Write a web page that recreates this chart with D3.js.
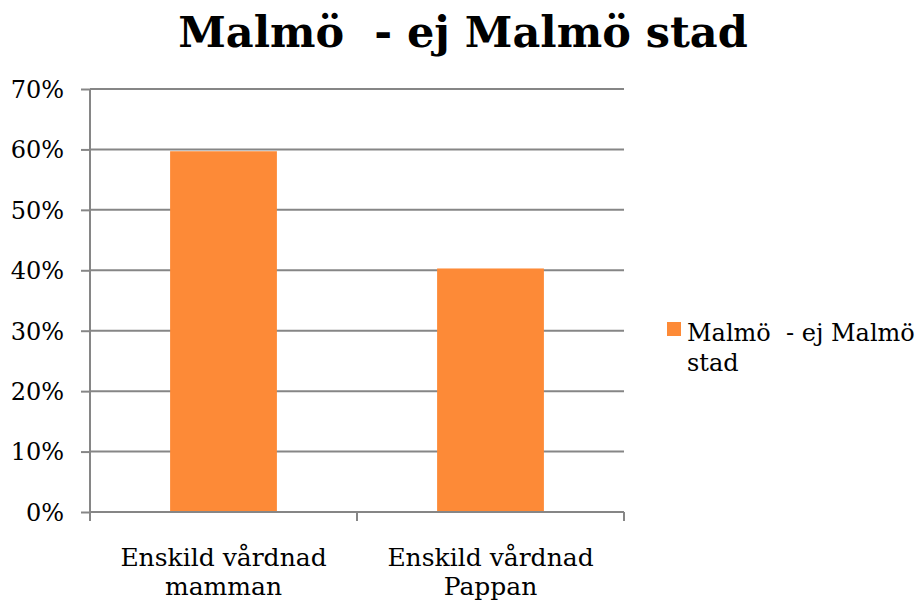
<!DOCTYPE html>
<html>
<head>
<meta charset="utf-8">
<script src="https://cdn.jsdelivr.net/npm/d3@7"></script>
<style>
  body { margin: 0; background: #fff; }
  svg text { font-family: "DejaVu Serif", "Liberation Serif", serif; fill: #000; }
</style>
</head>
<body>
<script>
var categories = [["Enskild vårdnad", "mamman"], ["Enskild vårdnad", "Pappan"]];
var values = [0.597, 0.403];
var seriesName = ["Malmö  - ej Malmö", "stad"];
var title = "Malmö  - ej Malmö stad";
var yTicks = [0, 0.1, 0.2, 0.3, 0.4, 0.5, 0.6, 0.7];

var outerWidth = 924, outerHeight = 600;
var margin = { top: 89, left: 90 },
    width = 534,
    height = 423;

var svg = d3.select("body").append("svg").attr("width", outerWidth).attr("height", outerHeight);

svg.append("text").attr("x", 463).attr("y", 47).attr("text-anchor", "middle")
  .style("font-size", "43px").style("font-weight", "bold").style("white-space", "pre")
  .text(title);

var g = svg.append("g").attr("transform", "translate(" + margin.left + "," + margin.top + ")");

var band = d3.scaleBand().domain(d3.range(categories.length)).range([0, width]);
var y = d3.scaleLinear().domain([0, 0.7]).range([height, 0]);

// gridlines
g.append("g").selectAll("line").data(yTicks.slice(1)).join("line")
  .attr("x1", 0).attr("x2", width).attr("y1", d => y(d)).attr("y2", d => y(d))
  .attr("stroke", "#868686").attr("stroke-width", 2);

// bars
g.append("g").selectAll("rect").data(values).join("rect")
  .attr("x", (d, i) => band(i) + band.bandwidth() * 0.3)
  .attr("width", band.bandwidth() * 0.4)
  .attr("y", d => y(d)).attr("height", d => height - y(d))
  .attr("fill", "#fd8a37");

// y axis
var yAxis = d3.axisLeft(y).tickValues(yTicks).tickFormat(d3.format(".0%")).tickSize(9).tickPadding(17);
var yAxisGroup = g.append("g").call(yAxis).attr("font-family", null).attr("font-size", null);
yAxisGroup.select(".domain").attr("stroke", "#868686").attr("stroke-width", 2).attr("d", "M0,0V" + height);
yAxisGroup.selectAll(".tick line").attr("stroke", "#868686").attr("stroke-width", 2);
yAxisGroup.selectAll(".tick text").style("font-size", "24px").attr("dy", "0.35em");

// x axis
var xAxisGroup = g.append("g").attr("transform", "translate(0," + height + ")");
xAxisGroup.append("line").attr("x1", 0).attr("x2", width).attr("stroke", "#868686").attr("stroke-width", 2);
xAxisGroup.selectAll(".xt").data([0, width / 2, width]).join("line").attr("class", "xt")
  .attr("x1", d => d).attr("x2", d => d).attr("y1", 0).attr("y2", 9)
  .attr("stroke", "#868686").attr("stroke-width", 2);
xAxisGroup.selectAll(".xl").data(categories).join("text").attr("class", "xl")
  .attr("text-anchor", "middle").style("font-size", "25px")
  .attr("transform", (d, i) => "translate(" + (band(i) + band.bandwidth() / 2) + ",54)")
  .selectAll("tspan").data(d => d).join("tspan")
  .attr("x", 0).attr("dy", (d, i) => i ? 29 : 0).text(d => d);

// legend
var legend = svg.append("g").attr("transform", "translate(667,322)");
legend.append("rect").attr("width", 14).attr("height", 14).attr("fill", "#fd8a37");
legend.append("text").attr("x", 20).attr("y", 19).style("font-size", "24px").style("white-space", "pre")
  .selectAll("tspan").data(seriesName).join("tspan")
  .attr("x", 20).attr("dy", (d, i) => i ? 30 : 0).text(d => d);
</script>
</body>
</html>
